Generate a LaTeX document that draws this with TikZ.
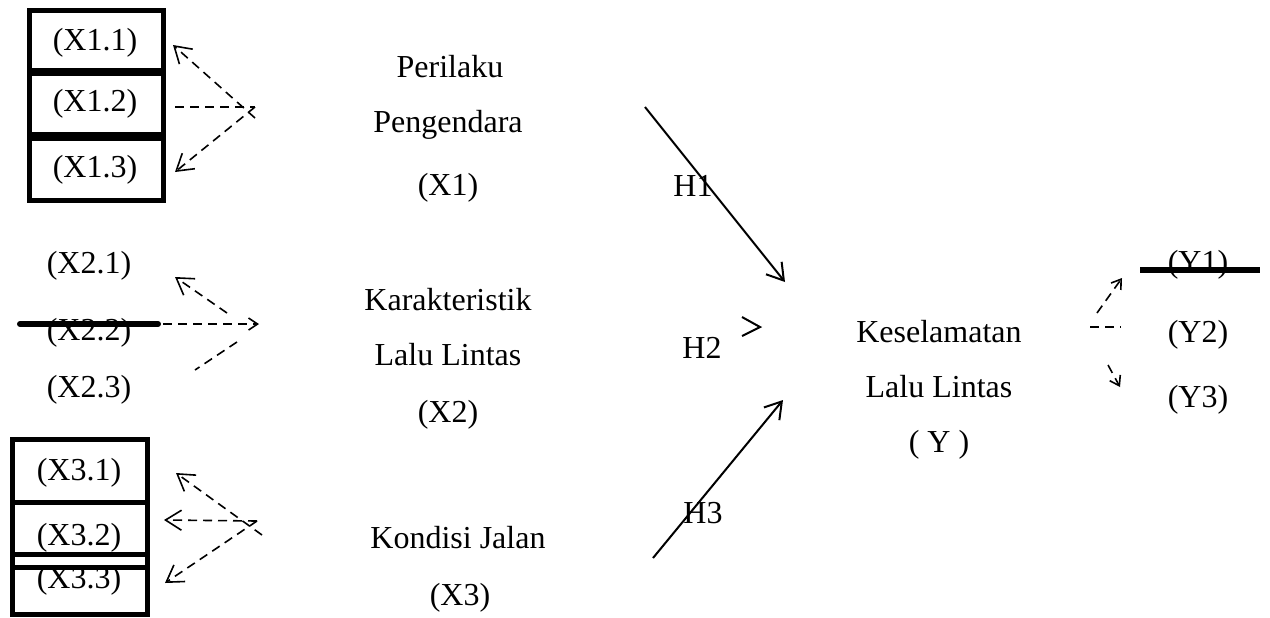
\documentclass[tikz,border=0pt]{standalone}
\usepackage{fontspec}
\setmainfont{Liberation Serif}
\usetikzlibrary{arrows.meta}
\begin{document}
\begin{tikzpicture}[x=0.5pt,y=-0.5pt,
  lbl/.style={font=\fontsize{16}{19}\selectfont, inner sep=0pt, anchor=base},
  indbox/.style={draw, line width=2.5pt},
  dsh/.style={dash pattern=on 4.5pt off 3pt, line width=0.8pt},
  tip/.style={-{Straight Barb[length=8pt,width=10pt]}},
  smalltip/.style={-{Straight Barb[length=4.5pt,width=6pt]}},
  hyp/.style={line width=1pt, -{Straight Barb[length=8pt,width=10pt]}},
  strike/.style={line width=3pt, line cap=round}]

\path[use as bounding box] (0,0) rectangle (1270,617);

% ---- indicator boxes, variable X1
\draw[indbox] (29.5,10) rectangle (163,70);
\draw[indbox] (29.5,73) rectangle (163,134);
\draw[indbox] (29.5,138) rectangle (163,200);
\node[lbl] (x11) at (95,50) {(X1.1)};
\node[lbl] (x12) at (95,111) {(X1.2)};
\node[lbl] (x13) at (95,177) {(X1.3)};

% ---- indicators, variable X2
\node[lbl] (x21) at (89,273) {(X2.1)};
\node[lbl] (x22) at (89,340) {(X2.2)};
\node[lbl] (x23) at (89,397) {(X2.3)};
\draw[strike] (20,324) -- (158,324);

% ---- indicator boxes, variable X3
\draw[indbox] (12.5,439) rectangle (147.5,502);
\draw[indbox] (12.5,502) rectangle (147.5,554);
\draw[indbox] (12.5,554) rectangle (147.5,567);
\draw[indbox] (12.5,567) rectangle (147.5,614);
\node[lbl] (x31) at (79,480) {(X3.1)};
\node[lbl] (x32) at (79,545) {(X3.2)};
\node[lbl] (x33) at (79,588) {(X3.3)};

% ---- latent variables
\node[lbl] (p1) at (450,77) {Perilaku};
\node[lbl] (p2) at (448,132) {Pengendara};
\node[lbl] (p3) at (448,195) {(X1)};
\node[lbl] (k1) at (448,310) {Karakteristik};
\node[lbl] (k2) at (448,365) {Lalu Lintas};
\node[lbl] (k3) at (448,422) {(X2)};
\node[lbl] (j1) at (458,548) {Kondisi Jalan};
\node[lbl] (j2) at (460,605) {(X3)};
\node[lbl] (y1) at (939,342) {Keselamatan};
\node[lbl] (y2) at (939,397) {Lalu Lintas};
\node[lbl] (y3) at (939,452) {( Y )};

% ---- indicators, variable Y
\node[lbl] (yy1) at (1198,272) {(Y1)};
\node[lbl] (yy2) at (1198,342) {(Y2)};
\node[lbl] (yy3) at (1198,407) {(Y3)};
\draw[strike, line cap=butt] (1140,270) -- (1260,270);

% ---- hypothesis labels
\node[lbl] (h1) at (693,196) {H1};
\node[lbl] (h2) at (702,358) {H2};
\node[lbl] (h3) at (703,523) {H3};

% ---- anchor points of the connectors
\coordinate (a1) at (255,107);
\coordinate (a1b) at (255,118);
\coordinate (t11) at (173,45);
\coordinate (t12) at (175,107);
\coordinate (t13) at (175,172);

\coordinate (a2) at (259,324);
\coordinate (s21) at (227,313);
\coordinate (t21) at (175,277);
\coordinate (t22) at (163,324);
\coordinate (s23a) at (237,342);
\coordinate (s23b) at (195,370);

\coordinate (a3) at (257,521);
\coordinate (a3b) at (262,535);
\coordinate (t31) at (176,473);
\coordinate (t32) at (164,520);
\coordinate (t33) at (165,583);

\coordinate (h1s) at (645,107);
\coordinate (h1e) at (785,282);
\coordinate (h2a) at (742,317);
\coordinate (h2b) at (760,327);
\coordinate (h2c) at (742,336);
\coordinate (h3s) at (653,558);
\coordinate (h3e) at (783,400);

\coordinate (ym) at (1090,327);
\coordinate (yme) at (1121,327);
\coordinate (yus) at (1097,313);
\coordinate (yut) at (1122,278);
\coordinate (yls) at (1108,365);
\coordinate (ylt) at (1120,387);

% ---- X1 indicator links
\draw[dsh, tip] (a1b) -- (t11);
\draw[dsh] (t12) -- (a1);
\draw[dsh, tip] (a1) -- (t13);

% ---- X2 indicator links
\draw[dsh, tip] (s21) -- (t21);
\draw[dsh, smalltip] (t22) -- (a2);
\draw[dsh] (s23a) -- (s23b);

% ---- X3 indicator links
\draw[dsh, tip] (a3b) -- (t31);
\draw[dsh, tip] (a3) -- (t32);
\draw[dsh, tip] (a3) -- (t33);

% ---- hypotheses
\draw[hyp] (h1s) -- (h1e);
\draw[line width=1pt] (h2a) -- (h2b) -- (h2c);
\draw[hyp] (h3s) -- (h3e);

% ---- Y indicator links
\draw[dsh] (ym) -- (yme);
\draw[dsh, smalltip] (yus) -- (yut);
\draw[dsh, smalltip] (yls) -- (ylt);
\end{tikzpicture}
\end{document}
